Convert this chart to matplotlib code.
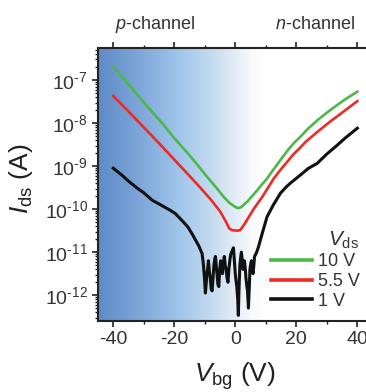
import numpy as np
import matplotlib.pyplot as plt
from matplotlib.colors import LinearSegmentedColormap
from matplotlib.lines import Line2D
from matplotlib.ticker import LogLocator, NullFormatter, FixedLocator, FuncFormatter

plt.rcParams["font.family"] = ["Liberation Sans", "DejaVu Sans"]
plt.rcParams["mathtext.fontset"] = "custom"
plt.rcParams["mathtext.rm"] = "Liberation Sans"
plt.rcParams["mathtext.it"] = "Liberation Sans:italic"
plt.rcParams["axes.unicode_minus"] = False

# gate voltage (V) and log10 of Ids (A)
vbg_10 = [-40, -35, -30, -24, -20, -15, -11.5, -8.9, -6, -4, -2, 0, 1, 2, 4,
          6, 8, 10.4, 12, 14.8, 17, 19, 21.3, 24, 27, 30, 33, 36, 40]
log_10 = [-6.69, -7.1, -7.52, -8.0, -8.35, -8.75, -9.05, -9.28, -9.52, -9.7,
          -9.85, -9.95, -9.98, -9.95, -9.82, -9.66, -9.49, -9.29, -9.13, -8.86,
          -8.65, -8.48, -8.32, -8.12, -7.93, -7.76, -7.6, -7.45, -7.27]

vbg_55 = [-40, -35, -30, -25, -20, -14.2, -11.5, -8, -5, -3, -2, -1, 0.5,
          1.6, 3, 6, 9, 12.6, 15, 17.5, 19, 21.3, 23, 27, 31, 35, 40]
log_55 = [-7.37, -7.73, -8.1, -8.47, -8.85, -9.29, -9.5, -9.78, -10.05,
          -10.3, -10.45, -10.49, -10.5, -10.49, -10.35, -10.0, -9.7, -9.29,
          -9.07, -8.86, -8.73, -8.57, -8.44, -8.2, -7.97, -7.76, -7.49]

vbg_1 = [-40, -37, -35, -32, -30, -27.3, -24, -21.5, -19.7, -17, -15.5, -14.2,
         -12, -10.9, -10.5, -10.1, -9.8, -9.5, -9.3, -9.0, -8.8, -8.5, -8.2,
         -7.9, -7.6, -7.3, -7, -6.7, -6.5, -6.2, -6, -5.7, -5.4, -5.1, -4.8,
         -4.5, -4.2, -3.9, -3.6, -3.3, -3, -2.7, -2.4, -2.1, -1.8, -1.5, -1.2,
         -0.9, -0.6, -0.3, 0, 0.3, 0.5, 0.8, 1.0, 1.2, 1.5, 1.8, 2.0, 2.3,
         2.5, 2.8, 3.0, 3.3, 3.5, 3.8, 4.0, 4.3, 4.6, 4.8, 5.1, 5.3, 5.6, 5.8,
         6.1, 6.3, 6.7, 7, 7.6, 8.2, 9.3, 10.4, 12.5, 14.8, 16.5, 18, 21.3,
         24, 26.8, 30, 33, 36, 40]
log_1 = [-9.05, -9.22, -9.35, -9.52, -9.62, -9.79, -9.92, -10.02, -10.1,
         -10.3, -10.42, -10.57, -10.85, -11.03, -11.25, -11.6, -11.95, -11.7,
         -11.5, -11.35, -11.2, -11.45, -11.6, -11.85, -11.9, -11.6, -11.3,
         -11.15, -11.1, -11.35, -11.5, -11.75, -11.8, -11.4, -11.2, -11.35,
         -11.5, -11.25, -11.1, -11.3, -11.4, -11.6, -11.7, -11.4, -11.2,
         -11.05, -11.0, -10.95, -10.9, -11.2, -11.5, -11.7, -11.8, -12.1,
         -12.47, -11.9, -11.3, -11.1, -11.0, -11.2, -11.4, -11.3, -11.2,
         -11.4, -11.6, -11.8, -11.9, -12.3, -11.8, -11.4, -11.25, -11.2, -11.4,
         -11.5, -11.3, -11.1, -11.05, -11.0, -10.88, -10.72, -10.45, -10.18,
         -9.9, -9.63, -9.5, -9.4, -9.21, -9.05, -8.94, -8.72, -8.54, -8.35,
         -8.12]

series = [
    (vbg_10, log_10, "#4cb848", "10 V", 1.9),
    (vbg_55, log_55, "#ee2a24", "5.5 V", 1.9),
    (vbg_1, log_1, "#111111", "1 V", 2.2),
]

fig = plt.figure(figsize=(3.66, 3.92), dpi=100)
ax = fig.add_axes([98 / 366, 1 - 321 / 392, 270 / 366, 273 / 392])

xmin, xmax = -45, 43.5
ymin, ymax = 10 ** -12.6, 10 ** -6.256

# blue gradient background (p-channel side)
cmap = LinearSegmentedColormap.from_list(
    "bg", [(0.0, "#5f8bc8"), (0.15, "#7ea6d9"), (0.3, "#a0c6ea"),
           (0.42, "#c4dbf0"), (0.5, "#e2ebf5"), (0.57, "#f8fafd"),
           (0.62, "#ffffff"), (1.0, "#ffffff")])
grad = np.linspace(0, 1, 400)[None, :]
ax.imshow(grad, extent=[xmin, xmax, ymin, ymax], aspect="auto",
          cmap=cmap, zorder=0)

for v, lg, c, lab, w in series:
    ax.plot(v, 10 ** np.array(lg), color=c, lw=w, solid_joinstyle="round",
            zorder=3)

ax.set_yscale("log")
ax.set_xlim(xmin, xmax)
ax.set_ylim(ymin, ymax)

ax.set_xticks([-40, -20, 0, 20, 40])
ax.xaxis.set_minor_locator(FixedLocator([-30, -10, 10, 30]))
ax.yaxis.set_major_locator(LogLocator(base=10, numticks=20))
ax.yaxis.set_minor_locator(LogLocator(base=10, subs=np.arange(2, 10),
                                      numticks=20))
ax.yaxis.set_minor_formatter(NullFormatter())
ax.yaxis.set_major_formatter(FuncFormatter(
    lambda y, pos: "$10^{\u2010%d}$" % round(-np.log10(y))))

ax.tick_params(which="both", direction="out", top=True, right=True,
               color="#222222", labelcolor="#333333", labelsize=14)
ax.tick_params(which="major", length=4, width=1.2)
ax.tick_params(which="minor", length=2.5, width=1.0)
for s in ax.spines.values():
    s.set_color("#222222")
    s.set_linewidth(1.5)

ax.set_xlabel("$V_{\\mathrm{bg}}$ (V)", fontsize=19, color="#222222")
ax.set_ylabel("$I_{\\mathrm{ds}}$ (A)", fontsize=19, color="#222222")
ax.xaxis.set_label_coords(0.507, -0.145)
ax.yaxis.set_label_coords(-0.235, 0.52)

top = ax.get_xaxis_transform()
ax.text(-26.2, 1.085, "$\\mathit{p}$-channel", transform=top, ha="center",
        va="center", fontsize=13, color="#333333")
ax.text(26.2, 1.085, "$\\mathit{n}$-channel", transform=top, ha="center",
        va="center", fontsize=13, color="#333333")

handles = [Line2D([], [], color=c, lw=2.6) for _, _, c, _, _ in series]
labels = [lab for _, _, _, lab, _ in series]
leg = ax.legend(handles, labels, title="$V_{\\mathrm{ds}}$", frameon=False,
                loc="lower right", bbox_to_anchor=(1.015, -0.005),
                fontsize=13, title_fontsize=15, handlelength=2.3,
                handletextpad=0.3, labelspacing=0.15, borderpad=0.2,
                alignment="right", markerfirst=True)
for t in leg.get_texts():
    t.set_color("#333333")
leg.get_title().set_color("#333333")

fig.savefig("out.png", dpi=100)
